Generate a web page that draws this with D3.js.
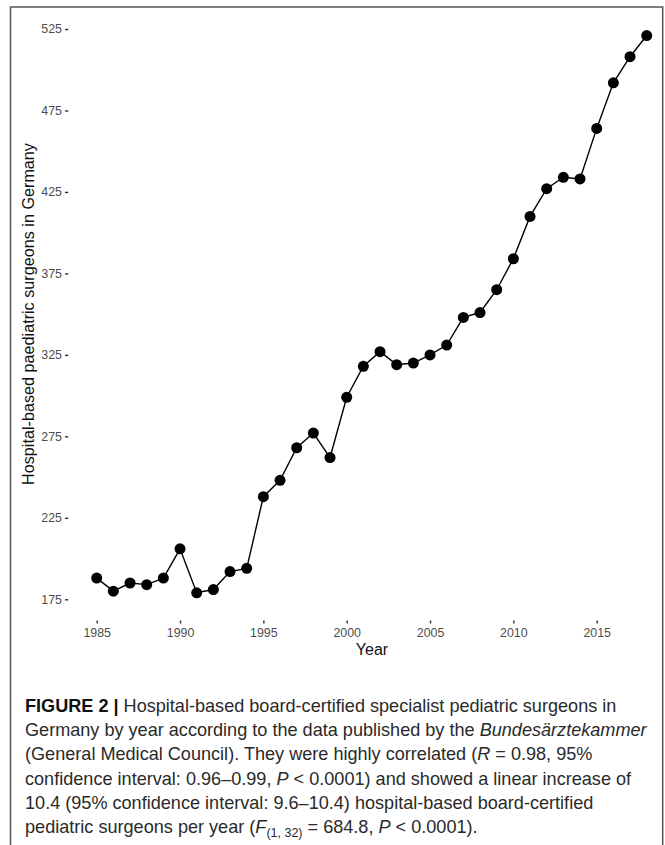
<!DOCTYPE html>
<html>
<head>
<meta charset="utf-8">
<script src="https://cdn.jsdelivr.net/npm/d3@7"></script>
<style>
  body { margin: 0; background: #fff; }
  svg { display: block; }
</style>
</head>
<body>
<div id="chart"></div>
<script>
const years = [1985, 1986, 1987, 1988, 1989, 1990, 1991, 1992, 1993, 1994,
  1995, 1996, 1997, 1998, 1999, 2000, 2001, 2002, 2003, 2004, 2005, 2006,
  2007, 2008, 2009, 2010, 2011, 2012, 2013, 2014, 2015, 2016, 2017, 2018];
const surgeons = [188, 180, 185, 184, 188, 206, 179, 181, 192, 194,
  238, 248, 268, 277, 262, 299, 318, 327, 319, 320, 325, 331,
  348, 351, 365, 384, 410, 427, 434, 433, 464, 492, 508, 521];
const xTicks = [1985, 1990, 1995, 2000, 2005, 2010, 2015];
const yTicks = [175, 225, 275, 325, 375, 425, 475, 525];

const captionLines = [
  [{ t: "FIGURE 2 | ", b: true }, { t: "Hospital-based board-certified specialist pediatric surgeons in" }],
  [{ t: "Germany by year according to the data published by the " }, { t: "Bundesärztekammer", i: true }],
  [{ t: "(General Medical Council). They were highly correlated (" }, { t: "R", i: true }, { t: " = 0.98, 95%" }],
  [{ t: "confidence interval: 0.96–0.99, " }, { t: "P", i: true }, { t: " < 0.0001) and showed a linear increase of" }],
  [{ t: "10.4 (95% confidence interval: 9.6–10.4) hospital-based board-certified" }],
  [{ t: "pediatric surgeons per year (" }, { t: "F", i: true }, { t: "(1, 32)", sub: true }, { t: " = 684.8, ", unsub: true }, { t: "P", i: true }, { t: " < 0.0001)." }]
];

const width = 665, height = 845;
const data = years.map((year, i) => ({ year, value: surgeons[i] }));

const svg = d3.select("#chart").append("svg")
  .attr("width", width)
  .attr("height", height)
  .style("font-family", "'Liberation Sans', Arial, sans-serif");

// frame around figure + caption (runs off the bottom)
svg.append("path")
  .attr("d", "M10.5,850 V7 H662.7 V850")
  .attr("fill", "none")
  .attr("stroke", "#555")
  .attr("stroke-width", 1.5);

const x = d3.scaleLinear().domain([1985, 2018]).range([96.7, 646.7]);
const y = d3.scaleLinear().domain([175, 525]).range([599.3, 29]);

/* axes, ggplot-like: no axis line, short grey ticks */
svg.append("g")
  .attr("transform", "translate(68.3,0)")
  .call(d3.axisLeft(y).tickValues(yTicks).tickSize(3.3).tickPadding(3))
  .call((g) => {
    g.select(".domain").remove();
    g.selectAll(".tick line").attr("stroke", "#333").attr("stroke-width", 1.4);
    g.selectAll(".tick text").attr("fill", "#4d4d4d").style("font-size", "12.4px");
  });

svg.append("g")
  .attr("transform", "translate(0,620.5)")
  .call(d3.axisBottom(x).tickValues(xTicks).tickFormat(d3.format("d")).tickSize(3).tickPadding(4.5))
  .call((g) => {
    g.select(".domain").remove();
    g.selectAll(".tick line").attr("stroke", "#333").attr("stroke-width", 1.4);
    g.selectAll(".tick text").attr("fill", "#4d4d4d").style("font-size", "12.4px");
  });

svg.append("text")
  .attr("x", 372)
  .attr("y", 655)
  .attr("text-anchor", "middle")
  .attr("fill", "#111")
  .style("font-size", "16px")
  .text("Year");

svg.append("text")
  .attr("transform", "translate(34,314) rotate(-90)")
  .attr("text-anchor", "middle")
  .attr("fill", "#111")
  .style("font-size", "16.2px")
  .text("Hospital-based paediatric surgeons in Germany");

/* line + points */
const line = d3.line().x((d) => x(d.year)).y((d) => y(d.value));
svg.append("path")
  .datum(data)
  .attr("d", line)
  .attr("fill", "none")
  .attr("stroke", "#000")
  .attr("stroke-width", 1.4);

svg.append("g")
  .selectAll("circle")
  .data(data)
  .join("circle")
  .attr("cx", (d) => x(d.year))
  .attr("cy", (d) => y(d.value))
  .attr("r", 5.5)
  .attr("fill", "#000");

/* caption */
const caption = svg.append("text")
  .attr("fill", "#2a2a2a")
  .style("font-size", "18.1px");
captionLines.forEach((parts, li) => {
  const ln = caption.append("tspan")
    .attr("x", 25)
    .attr("y", 712 + li * 24.2);
  parts.forEach((p) => {
    const s = ln.append("tspan").text(p.t);
    if (p.b) s.style("font-weight", "bold").attr("fill", "#111");
    if (p.i) s.style("font-style", "italic");
    if (p.sub) s.style("font-size", "12.5px").attr("dy", 4);
    if (p.unsub) s.attr("dy", -4);
  });
});
</script>
</body>
</html>
